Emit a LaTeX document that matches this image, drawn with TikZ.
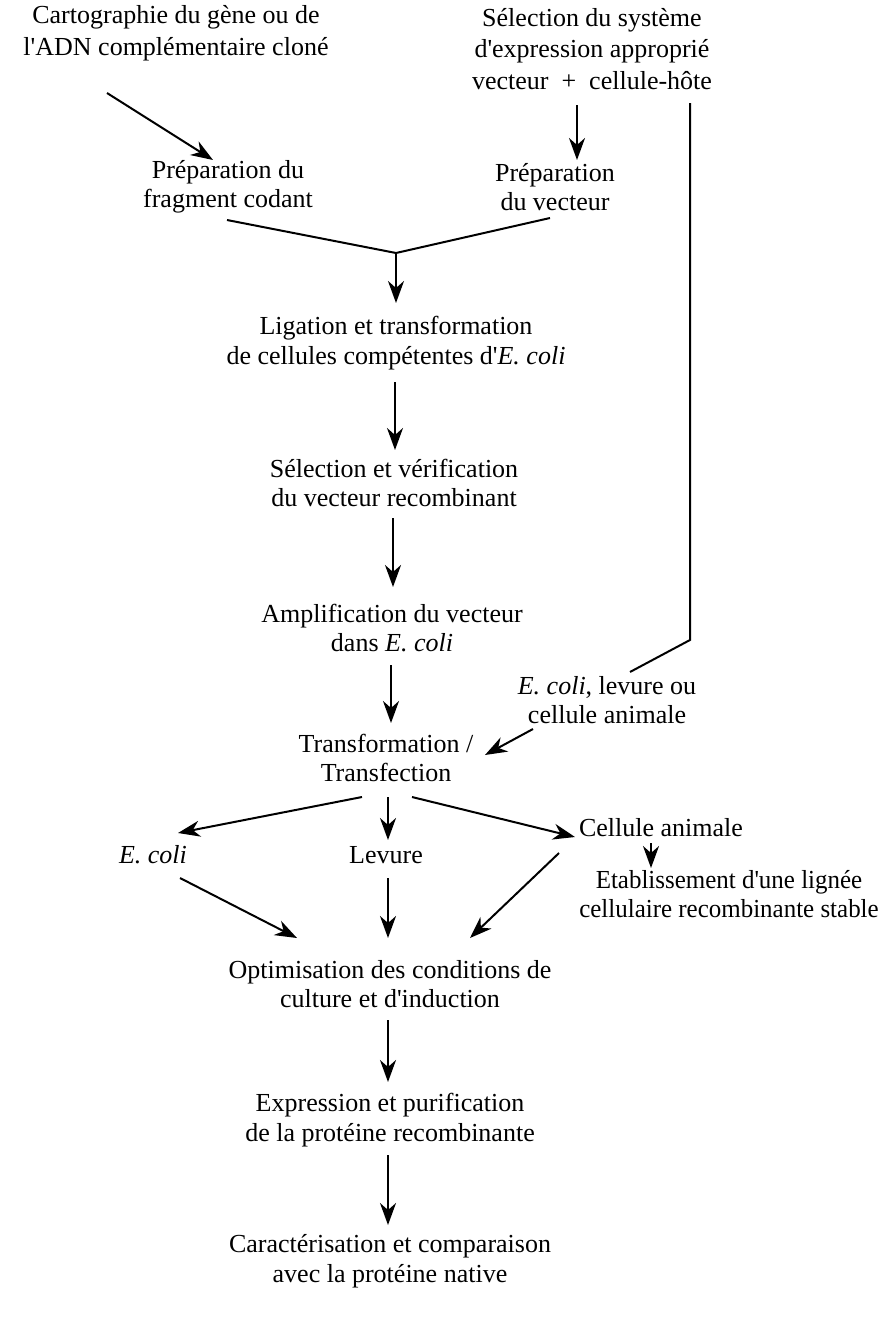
\documentclass[tikz,border=0pt]{standalone}
\usepackage{fontspec}
\setmainfont{Liberation Serif}
\usetikzlibrary{arrows.meta,calc}
\newcommand{\ap}{\textquotesingle}
\tikzset{
  lbl/.style={align=center, inner sep=6pt, font=\fontsize{26}{29.5}\selectfont},
  lbltop/.style={lbl, font=\fontsize{26}{31.5}\selectfont},
  arr/.style={line width=2pt, -{Stealth[length=22pt,width=16pt,inset=7pt]}},
  ln/.style={line width=2pt},
}
\begin{document}
\begin{tikzpicture}[x=1pt,y=-1pt]
\useasboundingbox (0,0) rectangle (885,1322);
% nodes
\node[lbltop] (carto) at (176,33) {Cartographie du gène ou de\\l\ap ADN complémentaire cloné};
\node[lbltop] (selsys) at (592,49) {Sélection du système\\d\ap expression approprié\\vecteur\ \ +\ \ cellule-hôte};
\node[lbl] (prepfrag) at (228,187) {Préparation du\\fragment codant};
\node[lbl] (prepvec) at (555,187) {Préparation\\du vecteur};
\node[lbl] (lig) at (396,343) {Ligation et transformation\\de cellules compétentes d\ap\textit{E. coli}};
\node[lbl] (selvec) at (394,483) {Sélection et vérification\\du vecteur recombinant};
\node[lbl] (ampli) at (392,628) {Amplification du vecteur\\dans \textit{E. coli}};
\node[lbl] (transf) at (386,758) {Transformation /\\Transfection};
\node[lbl] (hote) at (607,700) {\textit{E. coli}, levure ou\\cellule animale};
\node[lbl] (ecoli) at (153,855) {\textit{E. coli}};
\node[lbl] (levure) at (386,855) {Levure};
\node[lbl] (animale) at (661,828) {Cellule animale};
\node[lbl] (etab) at (729,894) {\scalebox{0.96}[1]{Etablissement d\ap une lignée}\\\scalebox{0.96}[1]{cellulaire recombinante stable}};
\node[lbl] (optim) at (390,984) {Optimisation des conditions de\\culture et d\ap induction};
\node[lbl] (expr) at (390,1120) {Expression et purification\\de la protéine recombinante};
\node[lbl] (carac) at (390,1261) {Caractérisation et comparaison\\avec la protéine native};
% helper coordinates
\coordinate (J) at (396,253);
\coordinate (corner) at (690,640);
% connectors
\draw[arr] ($(carto)+(-69,60)$) -- ($(prepfrag)+(-15,-27)$);
\draw[arr] ($(selsys)+(-15,56)$) -- ($(prepvec)+(22,-27)$);
\draw[ln] ($(selsys)+(98,54)$) -- (corner) -- ($(hote)+(23,-28)$);
\draw[ln] ($(prepfrag)+(-1,33)$) -- (J) -- ($(prepvec)+(-5,31)$);
\draw[arr] (J) -- ($(lig)+(0,-40)$);
\draw[arr] ($(lig)+(-1,39)$) coordinate (a1) -- (a1 |- {$(selvec)+(0,-33)$});
\draw[arr] ($(selvec)+(-1,35)$) coordinate (a2) -- (a2 |- {$(ampli)+(0,-41)$});
\draw[arr] ($(ampli)+(-1,37)$) coordinate (a3) -- (a3 |- {$(transf)+(0,-35)$});
\draw[arr] ($(hote)+(-74,29)$) -- ($(transf)+(99,-3)$);
\draw[arr] ($(transf)+(-24,39)$) -- ($(ecoli)+(25,-22)$);
\draw[arr] ($(transf)+(2,39)$) -- ($(levure)+(2,-15)$);
\draw[arr] ($(transf)+(26,39)$) -- ($(animale)+(-86,9)$);
\draw[arr] ($(animale)+(-10,15)$) coordinate (a4) -- (a4 |- {$(etab)+(0,-26)$});
\draw[arr] ($(ecoli)+(27,23)$) -- ($(optim)+(-93,-46)$);
\draw[arr] ($(levure)+(2,23)$) -- ($(optim)+(-2,-46)$);
\draw[arr] ($(etab)+(-170,-41)$) -- ($(optim)+(80,-46)$);
\draw[arr] ($(optim)+(-2,36)$) -- ($(expr)+(-2,-38)$);
\draw[arr] ($(expr)+(-2,35)$) -- ($(carac)+(-2,-36)$);
\end{tikzpicture}
\end{document}
